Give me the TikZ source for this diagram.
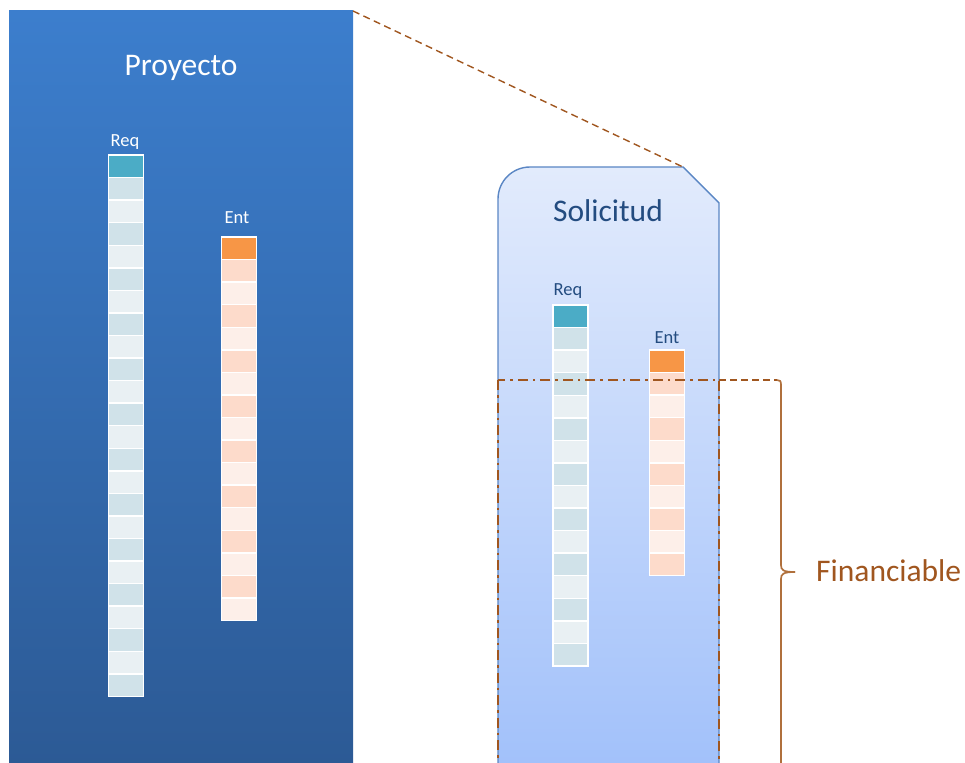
\documentclass[tikz,border=0pt]{standalone}
\usepackage{fontspec}
\setmainfont{Carlito}
\definecolor{proyTop}{HTML}{3C7ECD}
\definecolor{proyBot}{HTML}{2C5A95}
\definecolor{solTop}{HTML}{E2EBFC}
\definecolor{solBot}{HTML}{A2C1FA}
\definecolor{solLine}{HTML}{5A86C4}
\definecolor{darkblue}{HTML}{234C80}
\definecolor{teal}{HTML}{4BACC6}
\definecolor{orng}{HTML}{F79646}
\definecolor{reqDark}{HTML}{D0E2E9}
\definecolor{reqLight}{HTML}{E9F0F3}
\definecolor{entDark}{HTML}{FDDBCB}
\definecolor{entLight}{HTML}{FDEFE9}
\definecolor{brownline}{HTML}{A0561F}
\definecolor{bracecol}{HTML}{B0703C}
\tikzset{
  cell/.style={draw=white, line width=1.4pt, minimum width=35pt, minimum height=22.5pt, inner sep=0pt, outer sep=0pt},
  bigtext/.style={font=\fontsize{31.5}{36}\selectfont, anchor=base, inner sep=0pt},
  smalltext/.style={font=\fontsize{18.5}{22}\selectfont, anchor=base, inner sep=0pt},
  frame/.style={draw=white, line width=1.4pt}
}
\newcommand\drawcol[7]{%
  \foreach \i in {0,...,#4}{%
    \pgfmathtruncatemacro\oddq{mod(\i,2)}%
    \ifnum\i=0 \def\cc{#5}\else\ifnum\oddq=1 \def\cc{#6}\else\def\cc{#7}\fi\fi
    \node[cell, fill=\cc] (#1\i) at (#2, #3+22.56*\i+11.28) {};
  }%
  \draw[frame] (#10.north west) rectangle (#1#4.south east);
}
\begin{document}
\begin{tikzpicture}[x=1pt,y=-1pt]
\useasboundingbox (0,0) rectangle (965,762);
\clip (0,0) rectangle (965,762);
% Proyecto block
\shade[top color=proyTop, bottom color=proyBot] (9,11) rectangle (353,764);
\node[bigtext, text=white] (proy) at (181,76) {Proyecto};
\node[smalltext, text=white] (reqL) at (125,146.5) {Req};
\node[smalltext, text=white] (entL) at (237,223.5) {Ent};
\drawcol{rq}{125.7}{155}{23}{teal}{reqDark}{reqLight}
\drawcol{en}{238.9}{237}{16}{orng}{entDark}{entLight}
% Solicitud shape
\shade[top color=solTop, bottom color=solBot]
  (498,764) -- (498,199) arc[start angle=180, end angle=270, radius=32] -- (683,167) -- (719,203) -- (719,764) -- cycle;
\draw[solLine, line width=1.4pt]
  (498,764) -- (498,199) arc[start angle=180, end angle=270, radius=32] -- (683,167) -- (719,203) -- (719,764);
\coordinate (cut) at (683,167);
\coordinate (ptr) at (353,11);
\node[bigtext, text=darkblue] (sol) at (608,221) {Solicitud};
\node[smalltext, text=darkblue] (reqR) at (568,295) {Req};
\node[smalltext, text=darkblue] (entR) at (667,343.3) {Ent};
\drawcol{rr}{570.5}{305}{15}{teal}{reqDark}{reqLight}
\drawcol{er}{667.2}{350}{9}{orng}{entDark}{entLight}
% zoom connector
\draw[brownline, line width=1.4pt, dash pattern=on 7pt off 4.5pt] (ptr) -- (cut);
% Financiable dash-dot rectangle
\coordinate (fTL) at (498,380);
\coordinate (fBR) at (719,770);
\draw[brownline, line width=2.3pt, dash pattern=on 10pt off 5pt on 2.5pt off 5pt] (fTL) rectangle (fBR);
% brace
\coordinate (fTR) at (719,380);
\coordinate (bTop) at (777,380);
\draw[brownline, line width=1.5pt, dash pattern=on 7pt off 4pt] (fTR) -- (bTop);
\draw[bracecol, line width=1.7pt]
  (bTop) .. controls (780,380) and (781,381) .. (781,385)
  -- (781,565) .. controls (781,570) and (783,572) .. (795,572);
\draw[bracecol, line width=1.7pt]
  (795,572) .. controls (783,572) and (781,574) .. (781,579) -- (781,770);
\coordinate (tip) at (795,572);
\node[bigtext, text=brownline, anchor=base west] (fin) at (816,581.7) {Financiable};
\end{tikzpicture}
\end{document}
